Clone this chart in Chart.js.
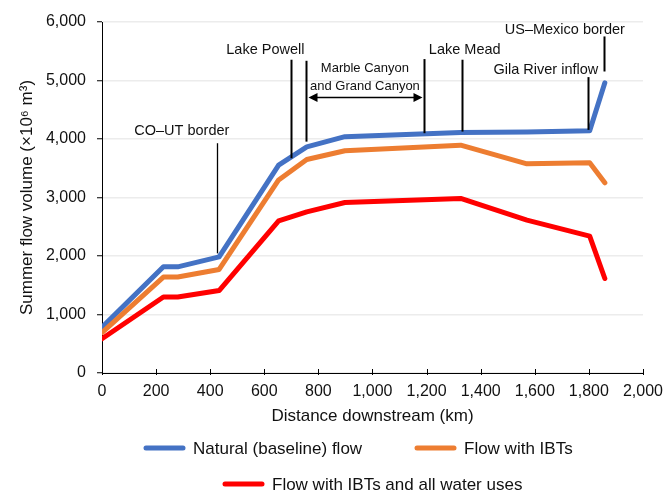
<!DOCTYPE html>
<html><head><meta charset="utf-8">
<script src="https://cdn.jsdelivr.net/npm/chart.js@4.4.1/dist/chart.umd.min.js"></script>
<style>html,body{margin:0;padding:0;background:#fff}canvas{display:block}</style>
</head><body>
<canvas id="c" width="672" height="490"></canvas>
<script>
// ---- Data ----
const distanceKm = [0, 227, 280, 433, 653, 757, 898, 1326, 1571, 1803, 1859];
const naturalFlow = [780, 1815, 1815, 1985, 3555, 3865, 4040, 4110, 4118, 4140, 4960];
const flowWithIBTs = [690, 1640, 1640, 1770, 3300, 3650, 3800, 3895, 3575, 3595, 3252];
const flowAllUses = [585, 1300, 1300, 1410, 2600, 2755, 2915, 2985, 2612, 2340, 1615];
const seriesLabels = ['Natural (baseline) flow', 'Flow with IBTs', 'Flow with IBTs and all water uses'];
const xTicks = [0, 200, 400, 600, 800, 1000, 1200, 1400, 1600, 1800, 2000];
const yTicks = [0, 1000, 2000, 3000, 4000, 5000, 6000];

// Annotations (km, flow units)
const markerText = ['CO\u2013UT border', 'Lake Powell', 'Lake Mead', 'Gila River inflow', 'US\u2013Mexico border'];
const markerKm = [427, 697, 1332, 1798, 1857];
const markerTop = [3928, 5355, 5355, 5058, 5753];
const markerBottom = [2045, 3671, 4127, 4156, 5154];
const markerLabelKm = [295, 604, 1341, 1641, 1711];
const markerLabelVal = [4139, 5526, 5526, 5183, 5868];
const canyonText = ['Marble Canyon', 'and Grand Canyon'];
const canyonKm = [755, 1192];
const canyonTop = [5337, 5366];
const canyonBottom = [3955, 4099];
const canyonTextKm = 972;
const canyonTextVal = [5212, 4897];
const canyonArrowVal = 4716;

const FONT = '"Liberation Sans", Arial, Helvetica, sans-serif';
const COLORS = ['#4472C4', '#ED7D31', '#FF0000'];

const toPts = arr => distanceKm.map((k, i) => ({x: k, y: arr[i]}));

const markersPlugin = {
  id: 'riverMarkers',
  afterDatasetsDraw(chart) {
    const {ctx, scales: {x, y}} = chart;
    ctx.save();
    ctx.strokeStyle = '#000';
    ctx.fillStyle = '#111';
    ctx.textAlign = 'center';
    ctx.textBaseline = 'middle';
    ctx.font = '14.5px ' + FONT;
    markerText.forEach((t, i) => {
      ctx.lineWidth = i === 0 ? 1.3 : 2;
      const px = Math.round(x.getPixelForValue(markerKm[i])) + 0.5;
      ctx.beginPath();
      ctx.moveTo(px, y.getPixelForValue(markerTop[i]));
      ctx.lineTo(px, y.getPixelForValue(markerBottom[i]));
      ctx.stroke();
      ctx.fillText(t, x.getPixelForValue(markerLabelKm[i]), y.getPixelForValue(markerLabelVal[i]));
    });
    // canyon bracket
    ctx.lineWidth = 2;
    const cx = canyonKm.map(k => Math.round(x.getPixelForValue(k)) + 0.5);
    canyonKm.forEach((k, i) => {
      ctx.beginPath();
      ctx.moveTo(cx[i], y.getPixelForValue(canyonTop[i]));
      ctx.lineTo(cx[i], y.getPixelForValue(canyonBottom[i]));
      ctx.stroke();
    });
    ctx.font = '13px ' + FONT;
    canyonText.forEach((t, i) => ctx.fillText(t, x.getPixelForValue(canyonTextKm), y.getPixelForValue(canyonTextVal[i])));
    const ay = Math.round(y.getPixelForValue(canyonArrowVal)) + 0.5;
    const l = cx[0] + 2, r = cx[1] - 2, ah = 9, aw = 4.5;
    ctx.lineWidth = 1.5;
    ctx.beginPath(); ctx.moveTo(l + ah - 1, ay); ctx.lineTo(r - ah + 1, ay); ctx.stroke();
    ctx.fillStyle = '#000';
    ctx.beginPath(); ctx.moveTo(l, ay); ctx.lineTo(l + ah, ay - aw); ctx.lineTo(l + ah, ay + aw); ctx.closePath(); ctx.fill();
    ctx.beginPath(); ctx.moveTo(r, ay); ctx.lineTo(r - ah, ay - aw); ctx.lineTo(r - ah, ay + aw); ctx.closePath(); ctx.fill();
    // inward x-axis tick marks
    ctx.strokeStyle = '#000';
    ctx.lineWidth = 1;
    const by = chart.chartArea.bottom;
    xTicks.forEach(v => {
      const px = Math.round(x.getPixelForValue(v)) + 0.5;
      ctx.beginPath(); ctx.moveTo(px, by - 4); ctx.lineTo(px, by + 2); ctx.stroke();
    });
    ctx.restore();
  }
};

// legend layout: [left x of line sample, centre y]
const legendPos = [[144, 448], [415, 448], [223, 484]];
const legendPlugin = {
  id: 'customLegend',
  afterDraw(chart) {
    const {ctx} = chart;
    ctx.save();
    ctx.font = '17px ' + FONT;
    ctx.textBaseline = 'middle';
    ctx.textAlign = 'left';
    chart.data.datasets.forEach((ds, i) => {
      const [lx, ly] = legendPos[i];
      ctx.strokeStyle = ds.borderColor;
      ctx.lineWidth = 5;
      ctx.lineCap = 'round';
      ctx.beginPath(); ctx.moveTo(lx + 2, ly); ctx.lineTo(lx + 39, ly); ctx.stroke();
      ctx.fillStyle = '#111';
      ctx.fillText(ds.label, lx + 49, ly + 1);
    });
    ctx.restore();
  }
};

new Chart(document.getElementById('c'), {
  type: 'line',
  data: {
    datasets: [naturalFlow, flowWithIBTs, flowAllUses].map((arr, i) => ({
      label: seriesLabels[i],
      data: toPts(arr),
      borderColor: COLORS[i],
      backgroundColor: COLORS[i],
      borderWidth: 5,
      pointRadius: 0,
      tension: 0,
      borderJoinStyle: 'round',
      borderCapStyle: 'round',
      fill: false,
      order: 3 - i
    }))
  },
  options: {
    responsive: false,
    animation: false,
    devicePixelRatio: 1,
    layout: {padding: {left: 0, right: 25, top: 22, bottom: 57}},
    plugins: {legend: {display: false}, tooltip: {enabled: false}},
    scales: {
      x: {
        type: 'linear', min: 0, max: 2000,
        afterBuildTicks: s => { s.ticks = xTicks.map(v => ({value: v})); },
        afterFit: s => { s.height = 60; },
        grid: {drawOnChartArea: false, drawTicks: false},
        border: {color: '#000', width: 1},
        ticks: {
          padding: 9, color: '#111', maxRotation: 0, autoSkip: false,
          font: {family: FONT, size: 16},
          callback: v => v.toLocaleString('en-US')
        },
        title: {display: true, text: 'Distance downstream (km)', color: '#111',
          font: {family: FONT, size: 17}, padding: {top: 0, bottom: 6}}
      },
      y: {
        min: 0, max: 6000,
        afterBuildTicks: s => { s.ticks = yTicks.map(v => ({value: v})); },
        afterFit: s => { s.width = 102; },
        grid: {color: '#ececec', lineWidth: 1.5, tickColor: '#000', tickLength: 5, tickWidth: 1},
        border: {color: '#000', width: 1},
        ticks: {
          padding: 11, color: '#111', font: {family: FONT, size: 16},
          callback: v => v.toLocaleString('en-US')
        },
        title: {display: true, text: 'Summer flow volume (\u00d710\u2076 m\u00b3)', color: '#111',
          font: {family: FONT, size: 17}, padding: {top: 17, bottom: 0}}
      }
    }
  },
  plugins: [markersPlugin, legendPlugin]
});
</script>
</body></html>
